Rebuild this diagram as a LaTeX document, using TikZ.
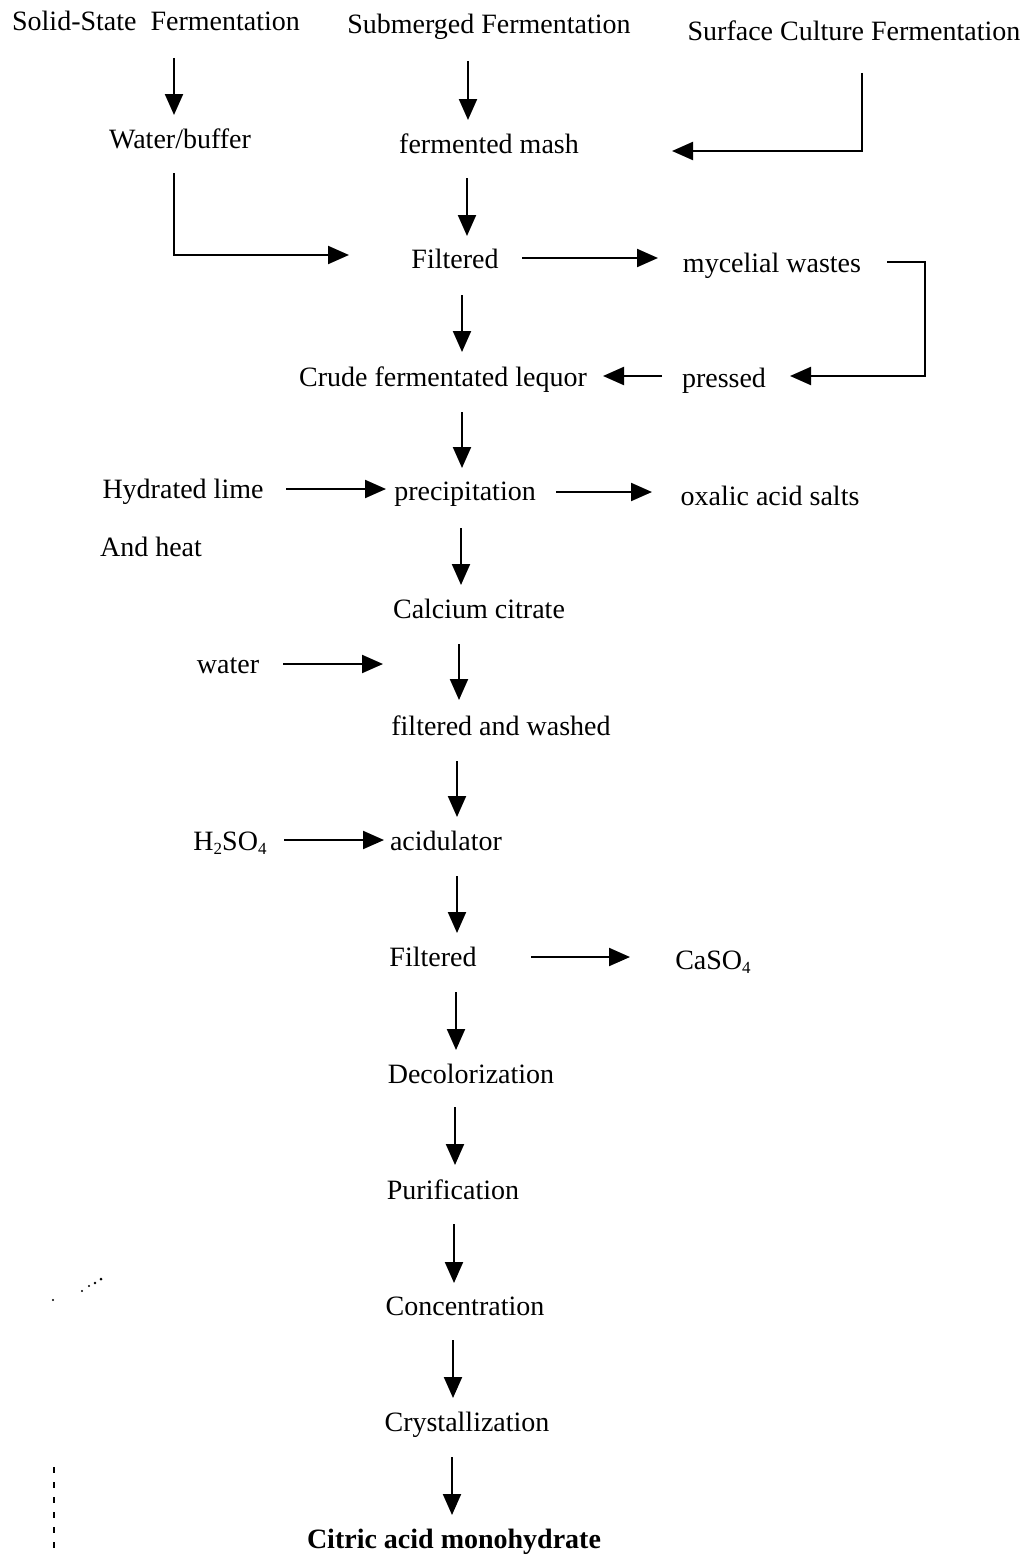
\documentclass[tikz,border=0pt]{standalone}
\usepackage{fontspec}
\setmainfont{Liberation Serif}
\usetikzlibrary{arrows.meta}
\newcommand{\lowsub}[1]{\raisebox{-0.35ex}{\fontsize{17}{20}\selectfont #1}}
\begin{document}
\begin{tikzpicture}[x=1pt,y=-1pt,
  lbl/.style={anchor=base,inner sep=0pt,font=\fontsize{28}{34}\selectfont},
  arr/.style={line width=2.1pt,-{Triangle[length=21pt,width=18pt]}},
  scanmark/.style={line width=1.2pt}]
\fill[white] (0,0) rectangle (1028,1555);
\useasboundingbox (0,0) rectangle (1028,1555);

% nodes
\node[lbl] (ssf) at (156,31) {Solid-State~~Fermentation};
\node[lbl] (subm) at (489,34) {Submerged Fermentation};
\node[lbl] (surf) at (854,41) {Surface Culture Fermentation};
\node[lbl] (wb) at (180,148) {Water/buffer};
\node[lbl] (mash) at (489,153) {fermented mash};
\node[lbl] (filtA) at (455,268) {Filtered};
\node[lbl] (myc) at (772,272) {mycelial wastes};
\node[lbl] (crude) at (443,386) {Crude fermentated lequor};
\node[lbl] (pressed) at (724,387) {pressed};
\node[lbl] (hl) at (183,498) {Hydrated lime};
\node[lbl] (heat) at (151,556) {And heat};
\node[lbl] (prec) at (465,500) {precipitation};
\node[lbl] (oxal) at (770,505) {oxalic acid salts};
\node[lbl] (calc) at (479,618) {Calcium citrate};
\node[lbl] (water) at (228,673) {water};
\coordinate (wend) at (383,664);
\node[lbl] (fw) at (501,735) {filtered and washed};
\node[lbl] (h2) at (230,850) {H\lowsub{2}SO\lowsub{4}};
\node[lbl] (acid) at (446,850) {acidulator};
\node[lbl] (filtB) at (433,966) {Filtered};
\node[lbl] (caso) at (713,969) {CaSO\lowsub{4}};
\node[lbl] (decol) at (471,1083) {Decolorization};
\node[lbl] (purif) at (453,1199) {Purification};
\node[lbl] (conc) at (465,1315) {Concentration};
\node[lbl] (cryst) at (467,1431) {Crystallization};
\node[lbl,font=\fontsize{28}{34}\selectfont\bfseries] (citric) at (454,1548) {Citric acid monohydrate};

% vertical arrows
\draw[arr,shorten <=27pt,shorten >=33pt] ([xshift=18pt]ssf.base) -- ([xshift=-6pt]wb.base);
\draw[arr,shorten <=27pt,shorten >=33pt] ([xshift=-21pt]subm.base) -- ([xshift=-21pt]mash.base);
\draw[arr,shorten <=25pt,shorten >=32pt] ([xshift=-22pt]mash.base) -- ([xshift=12pt]filtA.base);
\draw[arr,shorten <=27pt,shorten >=34pt] ([xshift=7pt]filtA.base) -- ([xshift=19pt]crude.base);
\draw[arr,shorten <=26pt,shorten >=32pt] ([xshift=19pt]crude.base) -- ([xshift=-3pt]prec.base);
\draw[arr,shorten <=28pt,shorten >=33pt] ([xshift=-4pt]prec.base) -- ([xshift=-18pt]calc.base);
\draw[arr,shorten <=26pt,shorten >=35pt] ([xshift=-20pt]calc.base) -- ([xshift=-42pt]fw.base);
\draw[arr,shorten <=26pt,shorten >=33pt] ([xshift=-44pt]fw.base) -- ([xshift=11pt]acid.base);
\draw[arr,shorten <=26pt,shorten >=33pt] ([xshift=11pt]acid.base) -- ([xshift=24pt]filtB.base);
\draw[arr,shorten <=26pt,shorten >=33pt] ([xshift=23pt]filtB.base) -- ([xshift=-15pt]decol.base);
\draw[arr,shorten <=24pt,shorten >=34pt] ([xshift=-16pt]decol.base) -- ([xshift=2pt]purif.base);
\draw[arr,shorten <=25pt,shorten >=32pt] ([xshift=1pt]purif.base) -- ([xshift=-11pt]conc.base);
\draw[arr,shorten <=25pt,shorten >=33pt] ([xshift=-12pt]conc.base) -- ([xshift=-14pt]cryst.base);
\draw[arr,shorten <=26pt,shorten >=33pt] ([xshift=-15pt]cryst.base) -- ([xshift=-2pt]citric.base);

% elbow connectors
\draw[arr,shorten <=32pt] ([xshift=8pt]surf.base) |- ([xshift=183pt,yshift=2pt]mash.base);
\draw[arr,shorten <=25pt] ([xshift=-6pt]wb.base) |- ([xshift=-106pt,yshift=13pt]filtA.base);
\draw[arr] ([xshift=115pt,yshift=10pt]myc.base) -- ++(38,0) |- ([xshift=66pt,yshift=11pt]pressed.base);

% horizontal arrows
\draw[arr] ([xshift=67pt,yshift=10pt]filtA.base) -- ([xshift=-114pt,yshift=14pt]myc.base);
\draw[arr] ([xshift=-62pt,yshift=11pt]pressed.base) -- ([xshift=160pt,yshift=10pt]crude.base);
\draw[arr] ([xshift=103pt,yshift=9pt]hl.base) -- ([xshift=-79pt,yshift=11pt]prec.base);
\draw[arr] ([xshift=91pt,yshift=8pt]prec.base) -- ([xshift=-118pt,yshift=13pt]oxal.base);
\draw[arr] ([xshift=55pt,yshift=9pt]water.base) -- (wend);
\draw[arr] ([xshift=54pt,yshift=10pt]h2.base) -- ([xshift=-62pt,yshift=10pt]acid.base);
\draw[arr] ([xshift=98pt,yshift=9pt]filtB.base) -- ([xshift=-83pt,yshift=12pt]caso.base);

% scan marks
\draw[scanmark,dash pattern=on 6pt off 9pt] (54,1467) -- (54,1555);
\fill (53,1300) circle (1.2);
\fill (82,1291) circle (1.2);
\fill (89,1286) circle (1.2);
\fill (95,1283) circle (1.4);
\fill (101,1279) circle (1.5);
\end{tikzpicture}
\end{document}
